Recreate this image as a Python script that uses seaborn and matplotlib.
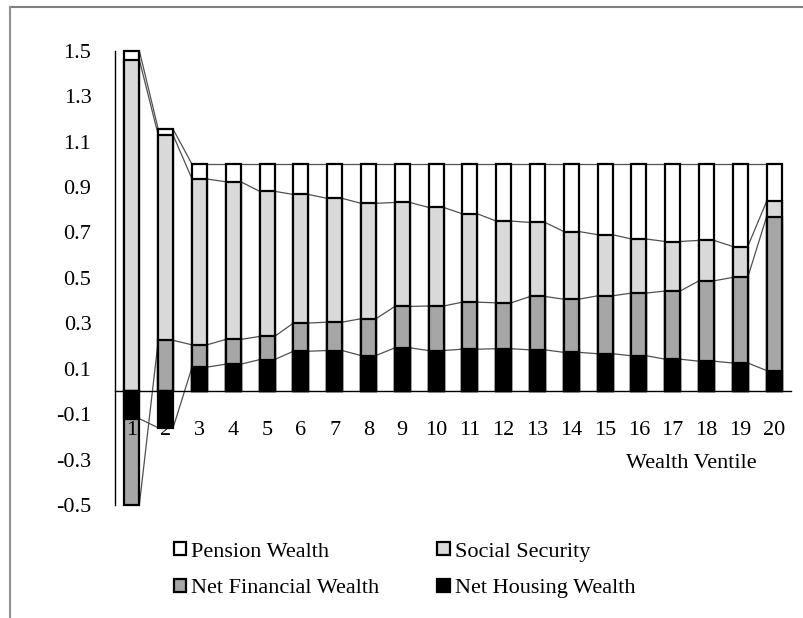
import numpy as np
import pandas as pd
import matplotlib
matplotlib.use("Agg")
import matplotlib.pyplot as plt
import seaborn as sns
from matplotlib.patches import Patch
from matplotlib.lines import Line2D

# ---------------- data ----------------
ventiles = [str(i) for i in range(1, 21)]
housing = [-0.12, -0.16, 0.107, 0.12, 0.14, 0.177, 0.18, 0.158, 0.192, 0.18,
           0.186, 0.188, 0.183, 0.172, 0.166, 0.157, 0.142, 0.133, 0.125, 0.092]
financial = [-0.38, 0.225, 0.098, 0.109, 0.102, 0.124, 0.125, 0.162, 0.182, 0.196,
             0.207, 0.202, 0.235, 0.234, 0.255, 0.276, 0.300, 0.354, 0.377, 0.678]
social_security = [1.46, 0.903, 0.730, 0.694, 0.639, 0.566, 0.545, 0.508, 0.458, 0.434,
                   0.389, 0.360, 0.326, 0.298, 0.269, 0.238, 0.218, 0.178, 0.136, 0.067]
pension = [0.04, 0.026, 0.065, 0.077, 0.119, 0.133, 0.150, 0.172, 0.168, 0.190,
           0.218, 0.250, 0.256, 0.296, 0.310, 0.329, 0.340, 0.335, 0.362, 0.163]
series_names = ["Net Housing Wealth", "Net Financial Wealth", "Social Security", "Pension Wealth"]
series_colors = ["#000000", "#a6a6a6", "#d9d9d9", "#ffffff"]
ytick_values = [-0.5, -0.3, -0.1, 0.1, 0.3, 0.5, 0.7, 0.9, 1.1, 1.3, 1.5]
ytick_labels = ["-0.5", "-0.3", "-0.1", "0.1", "0.3", "0.5", "0.7", "0.9", "1.1", "1.3", "1.5"]
xlabel_text = "Wealth Ventile"

# ---------------- style ----------------
sns.set_style("white")
plt.rcParams["font.family"] = ["Liberation Serif", "DejaVu Serif"]
plt.rcParams["text.color"] = "black"
plt.rcParams["xtick.color"] = "black"
plt.rcParams["ytick.color"] = "black"
plt.rcParams["xtick.labelcolor"] = "black"
plt.rcParams["ytick.labelcolor"] = "black"
FS = 16

fig = plt.figure(figsize=(8.04, 6.18), dpi=100)
W, H = 804, 618
ax = fig.add_axes([115 / W, 1 - 505 / H, 676 / W, 454.3 / H])

segs = np.array([housing, financial, social_security, pension])
pos = np.where(segs > 0, segs, 0).cumsum(axis=0)
neg = np.where(segs < 0, segs, 0).cumsum(axis=0)
ends = np.where(segs >= 0, pos, neg)
BW = 0.44

def draw_layer(heights, color):
    df = pd.DataFrame({"ventile": ventiles, "h": heights}).dropna()
    sns.barplot(data=df, x="ventile", y="h", order=ventiles, color=color,
                saturation=1, edgecolor="black", linewidth=1.6, width=BW,
                errorbar=None, ax=ax, zorder=2)

# positive layers, top-most cumulative first
for k in [3, 2, 1, 0]:
    draw_layer(np.where(segs[k] > 0, pos[k], np.nan), series_colors[k])
# negative layers, deepest first
for k in [1, 0]:
    draw_layer(np.where(segs[k] < 0, neg[k], np.nan), series_colors[k])

for p in ax.patches:
    p.set_clip_on(False)

# series lines connecting segment ends
for k in range(4):
    for i in range(len(ventiles) - 1):
        ax.plot([i + BW / 2, i + 1 - BW / 2], [ends[k, i], ends[k, i + 1]],
                color="#505050", lw=0.9, zorder=1.8)

# ---------------- axes ----------------
ax.set_xlim(-0.5, len(ventiles) - 0.5)
ax.set_ylim(-0.5, 1.5)
ax.set_xlabel("")
ax.set_ylabel("")
ax.set_axisbelow(False)
ax.xaxis.set_zorder(3)
ax.yaxis.set_zorder(3)
for s in ["top", "right"]:
    ax.spines[s].set_visible(False)
ax.spines["bottom"].set_position(("data", 0))
for s in ["left", "bottom"]:
    ax.spines[s].set_color("black")
    ax.spines[s].set_linewidth(1.0)
    ax.spines[s].set_zorder(2.6)

ax.set_yticks(ytick_values)
ax.set_yticklabels(ytick_labels, fontsize=FS, color="black")
ax.tick_params(axis="y", direction="out", length=5, width=0.9, pad=12,
               color="black", labelcolor="black")

ax.set_xticks(range(len(ventiles)))
ax.set_xticklabels(ventiles, fontsize=FS, color="black")
ax.set_xticks(np.arange(-0.5, len(ventiles), 1.0), minor=True)
ax.tick_params(axis="x", which="major", length=0, pad=21.5, labelcolor="black")
ax.tick_params(axis="x", which="minor", direction="inout", length=9, width=0.9, color="black")

fig.text(757 / W, 1 - 463 / H, xlabel_text, ha="right", va="center", fontsize=FS, color="black")

# ---------------- legend ----------------
handles = [Patch(facecolor=c, edgecolor="black", linewidth=1.6) for c in series_colors]
leg_kw = dict(frameon=False, fontsize=FS, handlelength=0.55, handleheight=0.55,
              handletextpad=0.22, labelspacing=0.78, borderpad=0, borderaxespad=0,
              loc="upper left", labelcolor="black")
fig.legend([handles[3], handles[1]], [series_names[3], series_names[1]],
           bbox_to_anchor=(174 / W, 1 - 542 / H), **leg_kw)
fig.legend([handles[2], handles[0]], [series_names[2], series_names[0]],
           bbox_to_anchor=(437.5 / W, 1 - 542 / H), **leg_kw)

# outer frame
fig.add_artist(Line2D([10 / W, 1], [1 - 7 / H, 1 - 7 / H], transform=fig.transFigure,
                      color="#808080", lw=1.5))
fig.add_artist(Line2D([10 / W, 10 / W], [0, 1 - 7 / H], transform=fig.transFigure,
                      color="#909090", lw=1.5))

fig.savefig("out.png", dpi=100)
